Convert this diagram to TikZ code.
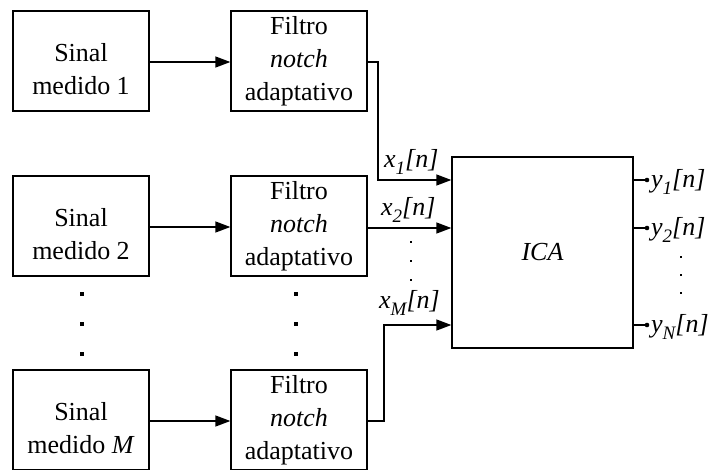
\documentclass[tikz,border=0pt]{standalone}
\usepackage{fontspec}
\setmainfont{Liberation Serif}
\usetikzlibrary{arrows.meta}
\newcommand{\subsc}[1]{\raisebox{-0.3em}{\fontsize{19}{19}\selectfont #1}}
\begin{document}
\begin{tikzpicture}[x=1pt,y=-1pt,
  every node/.style={font=\fontsize{26}{33}\selectfont},
  blk/.style={draw, line width=1.3pt, minimum width=136pt, minimum height=100pt, inner sep=0pt, align=center},
  txt/.style={inner sep=0pt, align=center},
  conn/.style={line width=1.3pt, -{Triangle[length=15pt,width=11pt]}},
  wire/.style={line width=1.3pt},
  dotmark/.style={fill, inner sep=0pt, minimum size=3.2pt},
  lbl/.style={anchor=base west, inner sep=0pt, font=\fontsize{26}{30}\selectfont\itshape}]
\clip (0,0) rectangle (718,469);
\useasboundingbox (0,0) rectangle (718,469);
% boxes
\node[blk] (s1) at (81,61) {};
\node[txt] (s1t) at (81,69) {Sinal\\medido 1};
\node[blk] (f1) at (299,61) {Filtro\\\textit{notch}\\adaptativo};
\node[blk] (s2) at (81,226) {};
\node[txt] (s2t) at (81,234) {Sinal\\medido 2};
\node[blk] (f2) at (299,226) {Filtro\\\textit{notch}\\adaptativo};
\node[blk] (sm) at (81,420) {};
\node[txt] (smt) at (81,428) {Sinal\\medido \textit{M}};
\node[blk] (fm) at (299,420) {Filtro\\\textit{notch}\\adaptativo};
\node[draw, line width=1.3pt, minimum width=181pt, minimum height=191pt, inner sep=0pt] (ica) at (542.5,252.5) {\textit{ICA}};
% coordinates
\coordinate (b1a) at (378,62);
\coordinate (b1b) at (378,180);
\coordinate (bma) at (384,421);
\coordinate (bmb) at (384,325);
\coordinate (i1) at (ica.west |- 0,180);
\coordinate (i2) at (ica.west |- 0,228);
\coordinate (im) at (ica.west |- 0,325);
\coordinate (o1) at (647,180);
\coordinate (o2) at (647,228);
\coordinate (om) at (647,325);
% connectors
\draw[conn] (s1.east |- 0,62) -- (f1.west |- 0,62);
\draw[conn] (s2.east |- 0,227) -- (f2.west |- 0,227);
\draw[conn] (sm.east |- 0,421) -- (fm.west |- 0,421);
\draw[conn] (f1.east |- b1a) -- (b1a) -- (b1b) -- (i1);
\draw[conn] (f2.east |- i2) -- (i2);
\draw[conn] (fm.east |- bma) -- (bma) -- (bmb) -- (im);
\draw[wire] (ica.east |- o1) -- (o1);
\draw[wire] (ica.east |- o2) -- (o2);
\draw[wire] (ica.east |- om) -- (om);
\fill (o1) circle (2.3pt);
\fill (o2) circle (2.3pt);
\fill (om) circle (2.3pt);
% labels
\node[lbl] (lx1) at (384,167) {x\subsc{1}[n]};
\node[lbl] (lx2) at (381,215) {x\subsc{2}[n]};
\node[lbl] (lxm) at (379,308) {x\subsc{M}[n]};
\node[lbl] (ly1) at (651,187) {y\subsc{1}[n]};
\node[lbl] (ly2) at (651,235) {y\subsc{2}[n]};
\node[lbl] (lym) at (651,332) {y\subsc{N}[n]};
% dots
\foreach \yy [count=\k] in {294,324,354} {
  \node[dotmark] (dl\k) at (82,\yy) {};
  \node[dotmark] (dm\k) at (296,\yy) {};
}
\foreach \yy [count=\k] in {242,261,280} {
  \node[dotmark, minimum size=2pt] (dx\k) at (411,\yy) {};
}
\foreach \yy [count=\k] in {257,275,293} {
  \node[dotmark, minimum size=2pt] (dy\k) at (681,\yy) {};
}
\end{tikzpicture}
\end{document}
